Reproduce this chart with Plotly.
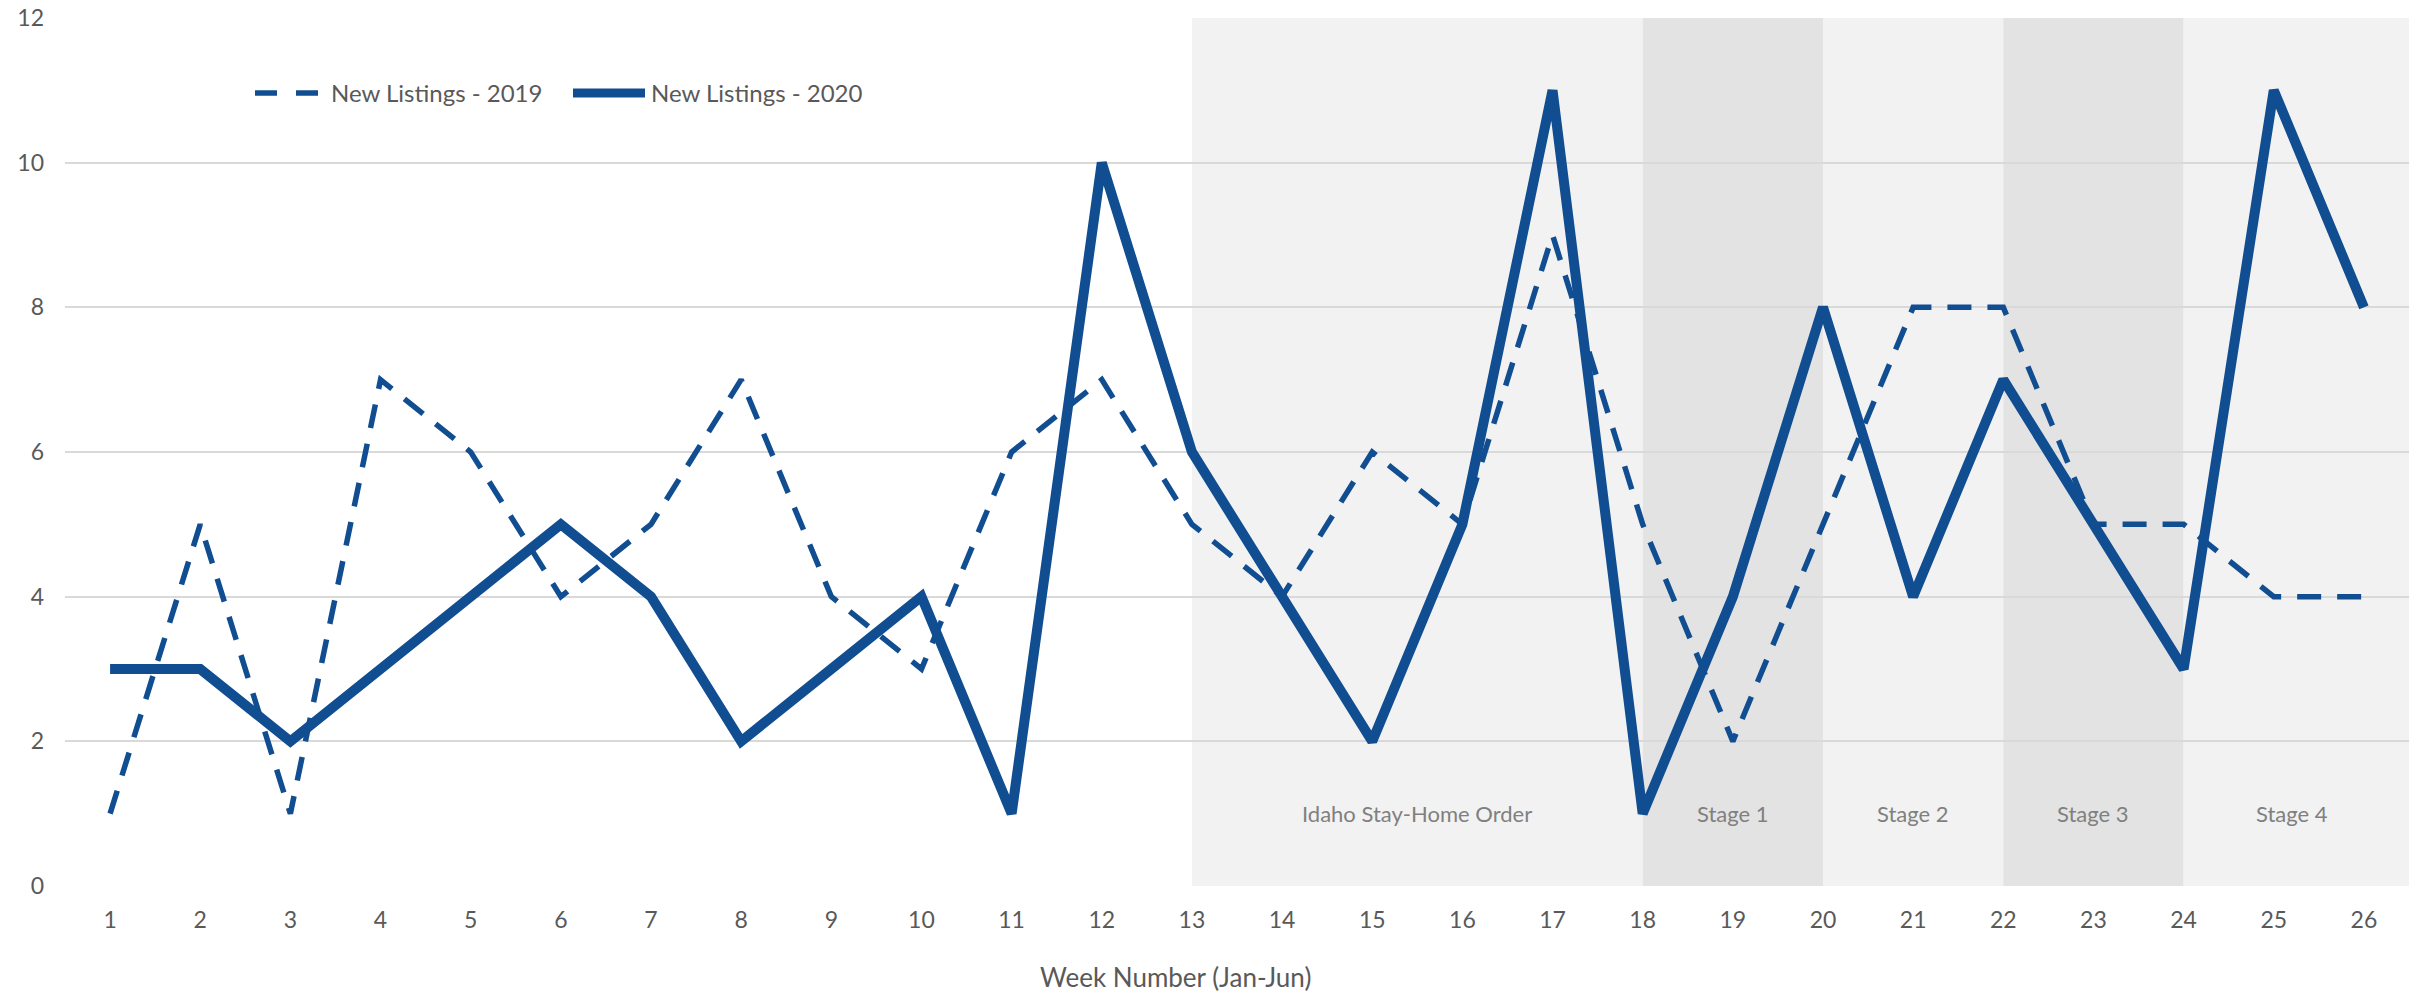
import plotly.graph_objects as go

# Weekly new listings, Jan-Jun
weeks = list(range(1, 27))
listings_2019 = [1, 5, 1, 7, 6, 4, 5, 7, 4, 3, 6, 7, 5, 4, 6, 5, 9, 5, 2, 5, 8, 8, 5, 5, 4, 4]
listings_2020 = [3, 3, 2, 3, 4, 5, 4, 2, 3, 4, 1, 10, 6, 4, 2, 5, 11, 1, 4, 8, 4, 7, 5, 3, 11, 8]

# Policy periods (week start, week end, label, label position)
period_starts = [13, 18, 20, 22, 24]
period_ends = [18, 20, 22, 24, 26.5]
period_labels = ["Idaho Stay-Home Order", "Stage 1", "Stage 2", "Stage 3", "Stage 4"]
label_weeks = [15.5, 19, 21, 23, 25.2]
period_fills = ["#F2F2F2", "#E3E3E3", "#F2F2F2", "#E3E3E3", "#F2F2F2"]

y_ticks = [0, 2, 4, 6, 8, 10, 12]

BLUE = "#104D91"
FONT = "Lato"

W, H = 2422, 996
ML, MR, MT, MB = 65, 13, 18, 110
PW, PH = W - ML - MR, H - MT - MB


def px_x(px):
    return (px - ML) / PW


def px_y(py):
    return (H - MB - py) / PH


fig = go.Figure()

fig.add_trace(go.Scatter(
    x=weeks, y=listings_2019, mode="lines", name="New Listings - 2019",
    line=dict(color=BLUE, width=5.5, dash="24px,16px"), showlegend=False,
))
fig.add_trace(go.Scatter(
    x=weeks, y=listings_2020, mode="lines", name="New Listings - 2020",
    line=dict(color=BLUE, width=10), showlegend=False,
))

shapes = []
annotations = []
for x0, x1, lab, lx, fc in zip(period_starts, period_ends, period_labels, label_weeks, period_fills):
    shapes.append(dict(type="rect", xref="x", yref="y", x0=x0, x1=x1, y0=0, y1=12,
                       fillcolor=fc, line=dict(width=0), layer="below"))
    annotations.append(dict(x=lx, y=1, xref="x", yref="y", text=lab, showarrow=False,
                            font=dict(family=FONT, size=22, color="#808080")))

# Legend drawn as line samples plus text
ly = px_y(93)
for a, b in [(255, 277), (296, 318)]:
    shapes.append(dict(type="line", xref="paper", yref="paper", x0=px_x(a), x1=px_x(b),
                       y0=ly, y1=ly, line=dict(color=BLUE, width=5.5)))
shapes.append(dict(type="line", xref="paper", yref="paper", x0=px_x(573), x1=px_x(645),
                   y0=ly, y1=ly, line=dict(color=BLUE, width=9)))
annotations.append(dict(x=px_x(329), y=ly, xref="paper", yref="paper", xanchor="left",
                        yanchor="middle", text="New Listings - 2019", showarrow=False,
                        font=dict(family=FONT, size=24, color="#595959")))
annotations.append(dict(x=px_x(649), y=ly, xref="paper", yref="paper", xanchor="left",
                        yanchor="middle", text="New Listings - 2020", showarrow=False,
                        font=dict(family=FONT, size=24, color="#595959")))

# Axis title
annotations.append(dict(x=px_x(1175), y=px_y(977), xref="paper", yref="paper",
                        xanchor="center", yanchor="middle", text="Week Number (Jan-Jun)",
                        showarrow=False, borderpad=0,
                        font=dict(family=FONT, size=26, color="#595959")))

fig.update_layout(
    width=W, height=H,
    margin=dict(l=ML, r=MR, t=MT, b=MB, pad=0, autoexpand=False),
    paper_bgcolor="white", plot_bgcolor="white",
    shapes=shapes, annotations=annotations,
    font=dict(family=FONT, size=23, color="#595959"),
    xaxis=dict(range=[0.5, 26.5], tickmode="array", tickvals=weeks,
               ticktext=[str(w) for w in weeks], showgrid=False, zeroline=False,
               showline=False, ticks="", ticklabelstandoff=18, automargin=False,
               tickfont=dict(family=FONT, size=23, color="#595959")),
    yaxis=dict(range=[0, 12], tickmode="array", tickvals=y_ticks,
               showgrid=True, gridcolor="#D9D9D9", gridwidth=2, zeroline=False,
               showline=False, ticks="", ticklabelstandoff=20, automargin=False,
               tickfont=dict(family=FONT, size=23, color="#595959")),
)

fig.write_html("out.html")
